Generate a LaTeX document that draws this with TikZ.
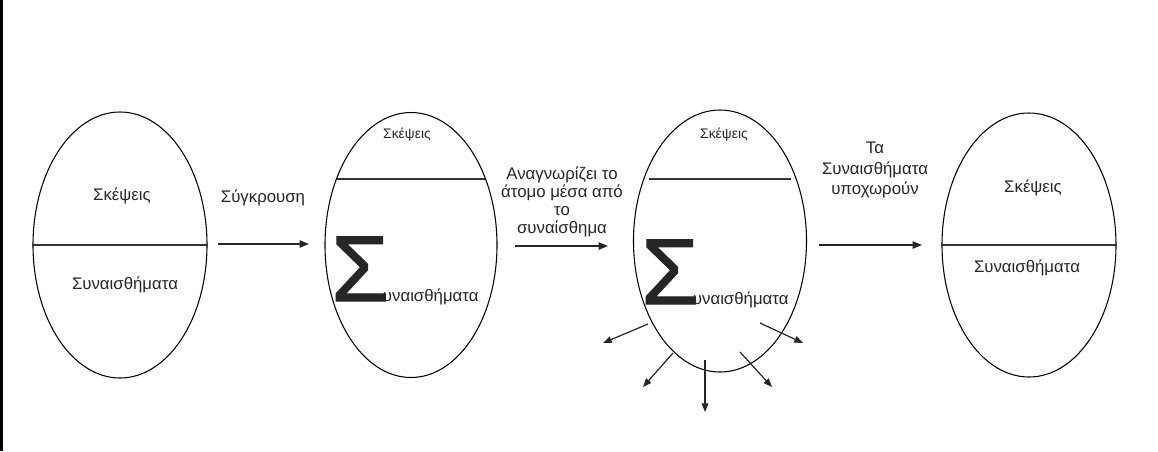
\documentclass[tikz,border=0pt]{standalone}
\usepackage{fontspec}
\setmainfont{Liberation Sans}
\newfontfamily\sigmafont[FakeBold=1.2]{Liberation Sans}
\usetikzlibrary{shapes.geometric,arrows.meta,calc}
\begin{document}
\begin{tikzpicture}[x=0.75pt,y=-0.75pt,
  egg/.style 2 args={ellipse, draw=black, line width=0.8pt, inner sep=0pt,
    minimum width=#1*0.75pt, minimum height=#2*0.75pt},
  divider/.style={draw=black!80, line width=1.1pt},
  lbl/.style={font=\fontsize{12.6}{13.3}\selectfont, text=black!85, inner sep=0pt, align=center},
  small/.style={font=\fontsize{10.4}{11}\selectfont, text=black!85, inner sep=0pt},
  flow/.style={draw=black!85, line width=1.1pt, -{Triangle[length=7pt,width=5.5pt]}},
  burst/.style={draw=black!85, line width=0.9pt, -{Triangle[length=6.5pt,width=5pt]}}]
\useasboundingbox (0,0) rectangle (1158,451);
\fill[black] (0,0) rectangle (3,451);

% ellipses
\node[egg={174}{266}] (e1) at (120,245) {};
\node[egg={172}{265}] (e2) at (411,245) {};
\node[egg={173}{262}] (e3) at (720,241) {};
\node[egg={174}{264}] (e4) at (1029,245) {};

% dividers
\draw[divider] (e1.west) -- (e1.east);
\draw[divider] (e4.west) -- (e4.east);
\draw[divider] ($(e2.center)+(-74,-66)$) -- ($(e2.center)+(74,-66)$);
\draw[divider] ($(e3.center)+(-71,-62)$) -- ($(e3.center)+(71,-62)$);

% texts in ellipses
\node[lbl] (t1a) at (122,196) {Σκέψεις};
\node[lbl] (t1b) at (125,285) {Συναισθήματα};
\node[small] (t2a) at (407,135) {Σκέψεις};
\node[lbl, anchor=base west] (t2b) at (331,301) {{\sigmafont\fontsize{70}{70}\selectfont Σ}\kern-4.5pt υναισθήματα};
\node[small] (t3a) at (724,135) {Σκέψεις};
\node[lbl, anchor=base west] (t3b) at (641,304) {{\sigmafont\fontsize{70}{70}\selectfont Σ}\kern-4.5pt υναισθήματα};
\node[lbl] (t4a) at (1033,188) {Σκέψεις};
\node[lbl] (t4b) at (1027,268) {Συναισθήματα};

% flow arrows
\coordinate (a1s) at (218,244); \coordinate (a1e) at (309,244);
\coordinate (a2s) at (515,246); \coordinate (a2e) at (608,246);
\coordinate (a3s) at (819,245); \coordinate (a3e) at (922,245);
\draw[flow] (a1s) -- (a1e);
\draw[flow] (a2s) -- (a2e);
\draw[flow] (a3s) -- (a3e);
\node[lbl] (l1) at (263,198) {Σύγκρουση};
\node[lbl] (l2) at (562,202) {Αναγνωρίζει το\\άτομο μέσα από\\το\\συναίσθημα};
\node[lbl, font=\fontsize{12.6}{15.4}\selectfont] (l3) at (875,170) {Τα\\Συναισθήματα\\υποχωρούν};

% burst arrows
\coordinate (b1s) at (648,324); \coordinate (b1e) at (603,343);
\coordinate (b2s) at (673,353); \coordinate (b2e) at (643,387);
\coordinate (b3s) at (705,360); \coordinate (b3e) at (705,412);
\coordinate (b4s) at (740,352); \coordinate (b4e) at (772,387);
\coordinate (b5s) at (760,323); \coordinate (b5e) at (803,343);
\foreach \i in {1,...,5} \draw[burst] (b\i s) -- (b\i e);
\end{tikzpicture}
\end{document}
